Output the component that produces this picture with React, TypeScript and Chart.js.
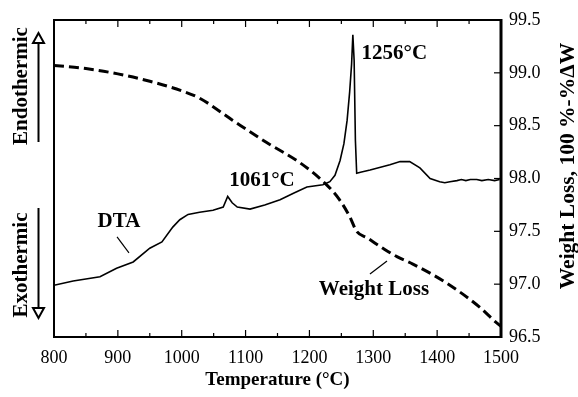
import React, { useEffect, useRef } from 'react';
import { Chart, registerables } from 'chart.js';

Chart.register(...registerables);

// ---- Data ----
// DTA trace (arbitrary units, plotted on the same numeric range as the weight axis)
const dtaTemps = [800, 830, 872, 898, 924, 950, 969, 986, 997, 1010, 1028, 1049, 1065, 1072, 1079, 1087, 1107, 1130, 1154, 1175, 1196, 1221, 1232, 1240, 1248, 1254, 1259, 1263, 1266, 1268, 1270, 1272, 1274, 1280, 1295, 1326, 1342, 1357, 1373, 1389, 1404, 1412, 1420, 1431, 1438, 1445, 1452, 1462, 1470, 1480, 1490, 1498];
const dtaValues = [96.99, 97.03, 97.07, 97.15, 97.21, 97.34, 97.40, 97.54, 97.61, 97.66, 97.68, 97.70, 97.73, 97.83, 97.77, 97.73, 97.71, 97.75, 97.80, 97.86, 97.92, 97.94, 97.97, 98.03, 98.17, 98.33, 98.55, 98.82, 99.08, 99.36, 99.12, 98.36, 98.05, 98.06, 98.08, 98.13, 98.16, 98.16, 98.10, 98.00, 97.97, 97.96, 97.97, 97.98, 97.99, 97.98, 97.99, 97.99, 97.98, 97.99, 97.98, 97.99];

// Weight loss trace (100 % - %ΔW)
const wlTemps = [800, 850, 900, 950, 1000, 1028, 1080, 1133, 1185, 1227, 1247, 1263, 1274, 1290, 1315, 1337, 1362, 1415, 1467, 1490, 1500];
const wlValues = [99.07, 99.04, 98.99, 98.92, 98.83, 98.76, 98.55, 98.34, 98.15, 97.94, 97.80, 97.64, 97.50, 97.44, 97.34, 97.26, 97.19, 97.01, 96.78, 96.65, 96.60];

const xMin = 800;
const xMax = 1500;
const xStep = 100;
const yMin = 96.5;
const yMax = 99.5;
const yStep = 0.5;

const xTitle = 'Temperature (\u00B0C)';
const yTitle = 'Weight Loss, 100 %-%\u0394W';
const endoLabel = 'Endothermic';
const exoLabel = 'Exothermic';

// Annotations anchored in data coordinates [T, value]
const annotationTexts = ['1256\u00B0C', '1061\u00B0C', 'DTA', 'Weight Loss'];
const annotationAt = [[1333, 99.18], [1125.7, 97.977], [901.8, 97.589], [1301.1, 96.946]];
const leaderLines = [
  [[898.7, 97.447], [917.4, 97.296]],
  [[1294.8, 97.097], [1321.5, 97.22]],
];

const SERIF = "'Liberation Serif', 'Times New Roman', serif";

const overlayPlugin = {
  id: 'overlay',
  afterDatasetsDraw(chart: any) {
    const { ctx, chartArea: a, scales } = chart;
    const xs = scales.x;
    const ys = scales.y;
    ctx.save();
    ctx.strokeStyle = '#000';
    ctx.fillStyle = '#000';

    // frame
    ctx.lineWidth = 2;
    ctx.strokeRect(a.left, a.top, a.right - a.left, a.bottom - a.top);
    ctx.lineWidth = 3;
    ctx.beginPath();
    ctx.moveTo(a.right, a.top - 1);
    ctx.lineTo(a.right, a.bottom + 1);
    ctx.stroke();

    // x ticks (major + minor), inward, bottom and top
    ctx.lineWidth = 1.2;
    const majors = xs.ticks.map((t: any) => t.value);
    const drawXTick = (v: number, len: number) => {
      const px = xs.getPixelForValue(v);
      ctx.beginPath();
      ctx.moveTo(px, a.bottom);
      ctx.lineTo(px, a.bottom - len);
      ctx.moveTo(px, a.top);
      ctx.lineTo(px, a.top + len);
      ctx.stroke();
    };
    majors.forEach((v: number, i: number) => {
      drawXTick(v, 7);
      if (i < majors.length - 1) drawXTick((v + majors[i + 1]) / 2, 4);
    });
    // right y ticks inward
    ys.ticks.forEach((t: any) => {
      const py = ys.getPixelForValue(t.value);
      ctx.beginPath();
      ctx.moveTo(a.right, py);
      ctx.lineTo(a.right - 7, py);
      ctx.stroke();
    });

    // annotations
    ctx.font = `bold 21px ${SERIF}`;
    ctx.textAlign = 'center';
    ctx.textBaseline = 'middle';
    annotationTexts.forEach((txt, i) => {
      const [t, v] = annotationAt[i];
      ctx.fillText(txt, xs.getPixelForValue(t), ys.getPixelForValue(v));
    });
    ctx.lineWidth = 1.2;
    leaderLines.forEach(([p, q]) => {
      ctx.beginPath();
      ctx.moveTo(xs.getPixelForValue(p[0]), ys.getPixelForValue(p[1]));
      ctx.lineTo(xs.getPixelForValue(q[0]), ys.getPixelForValue(q[1]));
      ctx.stroke();
    });

    // left side: Endothermic / Exothermic with arrows
    const lx = a.left - 32;
    const ax = a.left - 15.5;
    ctx.font = `bold 21px ${SERIF}`;
    ctx.save();
    ctx.translate(lx, a.top + 66);
    ctx.rotate(-Math.PI / 2);
    ctx.fillText(endoLabel, 0, 0);
    ctx.restore();
    ctx.save();
    ctx.translate(lx, a.top + 245);
    ctx.rotate(-Math.PI / 2);
    ctx.fillText(exoLabel, 0, 0);
    ctx.restore();

    ctx.lineWidth = 2;
    // up arrow
    ctx.beginPath();
    ctx.moveTo(ax, a.top + 122);
    ctx.lineTo(ax, a.top + 23);
    ctx.stroke();
    ctx.beginPath();
    ctx.moveTo(ax, a.top + 13);
    ctx.lineTo(ax - 5.5, a.top + 23);
    ctx.lineTo(ax + 5.5, a.top + 23);
    ctx.closePath();
    ctx.fillStyle = '#fff';
    ctx.fill();
    ctx.stroke();
    // down arrow
    ctx.beginPath();
    ctx.moveTo(ax, a.top + 188);
    ctx.lineTo(ax, a.top + 288);
    ctx.stroke();
    ctx.beginPath();
    ctx.moveTo(ax, a.top + 298);
    ctx.lineTo(ax - 5.5, a.top + 288);
    ctx.lineTo(ax + 5.5, a.top + 288);
    ctx.closePath();
    ctx.fill();
    ctx.stroke();
    ctx.fillStyle = '#000';

    // right axis title (reads bottom to top)
    ctx.font = `bold 21.5px ${SERIF}`;
    ctx.textAlign = 'center';
    ctx.textBaseline = 'middle';
    ctx.save();
    ctx.translate(a.right + 67, 166);
    ctx.rotate(-Math.PI / 2);
    ctx.fillText(yTitle, 0, 0);
    ctx.restore();

    ctx.restore();
  },
};

export default function App() {
  const canvasRef = useRef<HTMLCanvasElement | null>(null);

  useEffect(() => {
    if (!canvasRef.current) return;
    const chart = new Chart(canvasRef.current, {
      type: 'line',
      data: {
        datasets: [
          {
            label: 'DTA',
            data: dtaTemps.map((t, i) => ({ x: t, y: dtaValues[i] })),
            yAxisID: 'yDTA',
            borderColor: '#000',
            borderWidth: 1.6,
            pointRadius: 0,
            tension: 0,
            fill: false,
          },
          {
            label: 'Weight Loss',
            data: wlTemps.map((t, i) => ({ x: t, y: wlValues[i] })),
            yAxisID: 'y',
            borderColor: '#000',
            borderWidth: 3,
            borderDash: [10, 5],
            pointRadius: 0,
            cubicInterpolationMode: 'monotone',
            fill: false,
          },
        ],
      },
      options: {
        responsive: false,
        animation: false,
        devicePixelRatio: 1,
        layout: { padding: { left: 54, top: 20, right: 0, bottom: 0 } },
        plugins: { legend: { display: false }, tooltip: { enabled: false } },
        scales: {
          x: {
            type: 'linear',
            min: xMin,
            max: xMax,
            grid: { display: false, drawTicks: false },
            border: { display: false },
            ticks: {
              stepSize: xStep,
              color: '#000',
              padding: 10,
              font: { family: SERIF, size: 18 },
              maxRotation: 0,
              autoSkip: false,
              callback: (v: any) => String(v),
            },
            title: {
              display: true,
              text: xTitle,
              color: '#000',
              font: { family: SERIF, size: 19, weight: 'bold' },
              padding: { top: 0, bottom: 6 },
            },
            afterFit: (s: any) => {
              s.height = 60;
            },
          },
          y: {
            type: 'linear',
            position: 'right',
            min: yMin,
            max: yMax,
            grid: { display: false, drawTicks: false },
            border: { display: false },
            ticks: {
              stepSize: yStep,
              color: '#000',
              padding: 8,
              font: { family: SERIF, size: 18 },
            },
            afterFit: (s: any) => {
              s.width = 77;
            },
          },
          yDTA: {
            type: 'linear',
            display: false,
            min: yMin,
            max: yMax,
          },
        },
      },
      plugins: [overlayPlugin],
    } as any);
    return () => chart.destroy();
  }, []);

  return (
    <div style={{ position: 'absolute', left: 0, top: 0, width: 578, height: 397, background: '#fff' }}>
      <canvas ref={canvasRef} width={578} height={397} style={{ display: 'block' }} />
    </div>
  );
}
